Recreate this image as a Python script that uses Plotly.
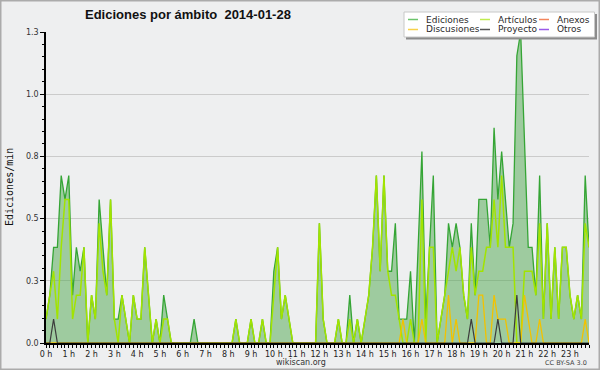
import plotly.graph_objects as go

# ---------------- data (edits per minute, 10-minute slots, one row per hour) -------------
hour_labels = ["0 h", "1 h", "2 h", "3 h", "4 h", "5 h", "6 h", "7 h", "8 h", "9 h", "10 h", "11 h",
               "12 h", "13 h", "14 h", "15 h", "16 h", "17 h", "18 h", "19 h", "20 h", "21 h", "22 h", "23 h"]
y_tick_vals = [0, 0.26, 0.52, 0.78, 1.04, 1.3]
y_tick_text = ["0.0", "0.3", "0.5", "0.8", "1.0", "1.3"]

ediciones = [
    0.1, 0.2, 0.4, 0.4, 0.7, 0.6,
    0.7, 0.2, 0.4, 0.3, 0.4, 0.0,
    0.2, 0.1, 0.6, 0.4, 0.2, 0.6,
    0.1, 0.1, 0.2, 0.1, 0.0, 0.2,
    0.1, 0.1, 0.4, 0.2, 0.0, 0.1,
    0.0, 0.2, 0.1, 0.0, 0.0, 0.0,
    0.0, 0.0, 0.0, 0.1, 0.0, 0.0,
    0.0, 0.0, 0.0, 0.0, 0.0, 0.0,
    0.0, 0.0, 0.1, 0.0, 0.0, 0.0,
    0.1, 0.0, 0.0, 0.1, 0.0, 0.0,
    0.3, 0.4, 0.1, 0.2, 0.1, 0.0,
    0.0, 0.0, 0.0, 0.0, 0.0, 0.0,
    0.5, 0.1, 0.0, 0.0, 0.0, 0.1,
    0.0, 0.0, 0.2, 0.0, 0.1, 0.0,
    0.1, 0.2, 0.4, 0.7, 0.3, 0.7,
    0.3, 0.3, 0.5, 0.1, 0.1, 0.1,
    0.3, 0.0, 0.4, 0.8, 0.1, 0.4,
    0.7, 0.0, 0.1, 0.2, 0.5, 0.4,
    0.5, 0.4, 0.2, 0.1, 0.5, 0.2,
    0.6, 0.6, 0.6, 0.4, 0.9, 0.6,
    0.8, 0.6, 0.4, 0.5, 1.2, 1.3,
    0.8, 0.4, 0.4, 0.2, 0.7, 0.1,
    0.5, 0.1, 0.4, 0.1, 0.4, 0.4,
    0.2, 0.1, 0.2, 0.1, 0.7, 0.4,
]

articulos = [
    0.1, 0.2, 0.3, 0.1, 0.4, 0.6,
    0.6, 0.1, 0.2, 0.2, 0.4, 0.0,
    0.2, 0.1, 0.5, 0.3, 0.2, 0.6,
    0.1, 0.0, 0.2, 0.1, 0.0, 0.2,
    0.1, 0.1, 0.4, 0.2, 0.0, 0.1,
    0.0, 0.1, 0.1, 0.0, 0.0, 0.0,
    0.0, 0.0, 0.0, 0.0, 0.0, 0.0,
    0.0, 0.0, 0.0, 0.0, 0.0, 0.0,
    0.0, 0.0, 0.1, 0.0, 0.0, 0.0,
    0.1, 0.0, 0.0, 0.1, 0.0, 0.0,
    0.2, 0.4, 0.1, 0.2, 0.1, 0.0,
    0.0, 0.0, 0.0, 0.0, 0.0, 0.0,
    0.5, 0.1, 0.0, 0.0, 0.0, 0.1,
    0.0, 0.0, 0.1, 0.0, 0.1, 0.0,
    0.1, 0.2, 0.4, 0.7, 0.3, 0.7,
    0.3, 0.2, 0.2, 0.1, 0.0, 0.0,
    0.1, 0.0, 0.0, 0.6, 0.0, 0.4,
    0.4, 0.0, 0.1, 0.2, 0.3, 0.4,
    0.3, 0.4, 0.2, 0.1, 0.4, 0.2,
    0.3, 0.3, 0.4, 0.4, 0.6, 0.4,
    0.7, 0.4, 0.4, 0.4, 0.0, 0.0,
    0.3, 0.3, 0.3, 0.2, 0.5, 0.1,
    0.5, 0.1, 0.4, 0.1, 0.4, 0.4,
    0.2, 0.1, 0.2, 0.1, 0.5, 0.4,
]

discusiones = [
    0.0, 0.0, 0.0, 0.0, 0.0, 0.0,
    0.0, 0.0, 0.0, 0.0, 0.0, 0.0,
    0.0, 0.0, 0.0, 0.0, 0.0, 0.0,
    0.0, 0.0, 0.0, 0.0, 0.0, 0.0,
    0.0, 0.0, 0.0, 0.0, 0.0, 0.0,
    0.0, 0.0, 0.0, 0.0, 0.0, 0.0,
    0.0, 0.0, 0.0, 0.0, 0.0, 0.0,
    0.0, 0.0, 0.0, 0.0, 0.0, 0.0,
    0.0, 0.0, 0.0, 0.0, 0.0, 0.0,
    0.0, 0.0, 0.0, 0.0, 0.0, 0.0,
    0.0, 0.0, 0.0, 0.0, 0.0, 0.0,
    0.0, 0.0, 0.0, 0.0, 0.0, 0.0,
    0.0, 0.0, 0.0, 0.0, 0.0, 0.0,
    0.0, 0.0, 0.0, 0.0, 0.0, 0.0,
    0.0, 0.0, 0.0, 0.0, 0.0, 0.0,
    0.0, 0.0, 0.0, 0.0, 0.1, 0.0,
    0.0, 0.0, 0.0, 0.1, 0.0, 0.0,
    0.0, 0.0, 0.0, 0.0, 0.2, 0.0,
    0.1, 0.0, 0.0, 0.0, 0.0, 0.0,
    0.2, 0.2, 0.0, 0.0, 0.2, 0.1,
    0.1, 0.1, 0.0, 0.0, 0.0, 0.0,
    0.2, 0.1, 0.0, 0.0, 0.1, 0.0,
    0.0, 0.0, 0.0, 0.0, 0.0, 0.0,
    0.0, 0.0, 0.0, 0.0, 0.1, 0.0,
]

proyecto = [
    0.0, 0.0, 0.1, 0.0, 0.0, 0.0,
    0.0, 0.0, 0.0, 0.0, 0.0, 0.0,
    0.0, 0.0, 0.0, 0.0, 0.0, 0.0,
    0.0, 0.0, 0.0, 0.0, 0.0, 0.0,
    0.0, 0.0, 0.0, 0.0, 0.0, 0.0,
    0.0, 0.0, 0.0, 0.0, 0.0, 0.0,
    0.0, 0.0, 0.0, 0.0, 0.0, 0.0,
    0.0, 0.0, 0.0, 0.0, 0.0, 0.0,
    0.0, 0.0, 0.0, 0.0, 0.0, 0.0,
    0.0, 0.0, 0.0, 0.0, 0.0, 0.0,
    0.0, 0.0, 0.0, 0.0, 0.0, 0.0,
    0.0, 0.0, 0.0, 0.0, 0.0, 0.0,
    0.0, 0.0, 0.0, 0.0, 0.0, 0.0,
    0.0, 0.0, 0.0, 0.0, 0.0, 0.0,
    0.0, 0.0, 0.0, 0.0, 0.0, 0.0,
    0.0, 0.0, 0.0, 0.0, 0.0, 0.0,
    0.0, 0.0, 0.0, 0.0, 0.0, 0.0,
    0.0, 0.0, 0.0, 0.0, 0.0, 0.0,
    0.0, 0.0, 0.0, 0.0, 0.1, 0.0,
    0.0, 0.0, 0.0, 0.0, 0.0, 0.1,
    0.0, 0.0, 0.0, 0.0, 0.2, 0.0,
    0.0, 0.0, 0.0, 0.0, 0.0, 0.0,
    0.0, 0.0, 0.0, 0.0, 0.0, 0.0,
    0.0, 0.0, 0.0, 0.0, 0.0, 0.0,
]

legend_names = ["Ediciones", "Artículos", "Anexos", "Discusiones", "Proyecto", "Otros"]

# time of each 10-minute slot, in hours
slots = [i / 6 for i in range(len(ediciones))]

# ---------------- layout geometry (pixels) ----------------
W, H = 600, 370
L, R, T, B = 46, 11, 32, 27
PW, PH = W - L - R, H - T - B


def px(x):
    return (x - L) / PW


def py(y):
    return (H - B - y) / PH


BG = "#eeeff0"
FONT = "DejaVu Sans"

fig = go.Figure()
fig.add_trace(go.Scatter(x=slots, y=ediciones, mode="lines", fill="tozeroy",
                         fillcolor="rgba(78,168,78,0.5)",
                         line=dict(color="#35a535", width=1.3), name=legend_names[0],
                         showlegend=False))
fig.add_trace(go.Scatter(x=slots, y=articulos, mode="lines",
                         line=dict(color="#a2e400", width=1.5), name=legend_names[1],
                         showlegend=False))
fig.add_trace(go.Scatter(x=slots, y=discusiones, mode="lines",
                         line=dict(color="#f2c200", width=1.3), name=legend_names[3],
                         showlegend=False))
fig.add_trace(go.Scatter(x=slots, y=proyecto, mode="lines",
                         line=dict(color="#3c3c3c", width=1.2), name=legend_names[4],
                         showlegend=False))

shapes = []
annotations = []

# outer frame
shapes.append(dict(type="rect", xref="paper", yref="paper",
                   x0=px(0.75), x1=px(599.25), y0=py(369.25), y1=py(0.75),
                   line=dict(color="#ababab", width=1.5), fillcolor="rgba(0,0,0,0)", layer="above"))

# legend box with shadow
shapes.append(dict(type="rect", xref="paper", yref="paper",
                   x0=px(406), x1=px(597), y0=py(39.5), y1=py(14),
                   line=dict(width=0), fillcolor="#8c8c8c", layer="above"))
shapes.append(dict(type="rect", xref="paper", yref="paper",
                   x0=px(404), x1=px(594.5), y0=py(37), y1=py(12),
                   line=dict(color="#c8c8c8", width=1), fillcolor="#ffffff", layer="above"))

legend_colors = ["#6cc46c", "#c0ec50", "#f3855c", "#f7d14a", "#555555", "#9a5ae8"]
col_swatch = [408, 480, 539]
col_text = [424, 496, 555]
row_y = [19.5, 29.5]
for k, name in enumerate(legend_names):
    r, c = divmod(k, 3)
    shapes.append(dict(type="line", xref="paper", yref="paper",
                       x0=px(col_swatch[c]), x1=px(col_swatch[c] + 10),
                       y0=py(row_y[r]), y1=py(row_y[r]),
                       line=dict(color=legend_colors[k], width=1.5), layer="above"))
    annotations.append(dict(text=name, xref="paper", yref="paper",
                            x=px(col_text[c]), y=py(row_y[r]), xanchor="left", yanchor="middle",
                            showarrow=False, font=dict(family=FONT, size=9, color="#2a2a2a")))

# y axis title
annotations.append(dict(text="Ediciones/min", xref="paper", yref="paper",
                        x=px(9.5), y=0.5, textangle=-90, xanchor="center", yanchor="middle",
                        showarrow=False, font=dict(family="DejaVu Sans Mono", size=10, color="#111")))
# footer texts
annotations.append(dict(text="wikiscan.org", xref="paper", yref="paper",
                        x=px(301), y=py(362.5), xanchor="center", yanchor="middle",
                        showarrow=False, font=dict(family=FONT, size=8, color="#333")))
annotations.append(dict(text="CC BY-SA 3.0", xref="paper", yref="paper",
                        x=px(589), y=py(362.5), xanchor="right", yanchor="middle",
                        showarrow=False, font=dict(family=FONT, size=6.5, color="#444")))

fig.update_layout(
    width=W, height=H,
    margin=dict(l=L, r=R, t=T, b=B, pad=0),
    paper_bgcolor=BG, plot_bgcolor=BG,
    showlegend=False,
    title=dict(text="<b>Ediciones por ámbito \u00a02014-01-28</b>",
               xref="container", yref="container",
               x=85 / W, xanchor="left", y=1 - 14 / H, yanchor="middle",
               font=dict(family="Liberation Sans", size=13, color="#111")),
    shapes=shapes,
    annotations=annotations,
    xaxis=dict(range=[0, slots[-1]], tickmode="array", tickvals=list(range(24)),
               ticktext=hour_labels, ticks="outside", ticklen=3, tickwidth=1,
               tickcolor="#000", showline=True, linecolor="#000", linewidth=1.5,
               showgrid=False, zeroline=False,
               tickfont=dict(family=FONT, size=8, color="#222"),
               minor=dict(dtick=1 / 6, tick0=0, ticks="outside", ticklen=3,
                          tickcolor="#000", tickwidth=1, showgrid=False)),
    yaxis=dict(range=[0, 1.3], tickmode="array", tickvals=y_tick_vals, ticktext=y_tick_text,
               ticks="outside", ticklen=4, tickwidth=1, tickcolor="#000",
               showline=True, linecolor="#000", linewidth=1.5,
               showgrid=True, gridcolor="#cbcbcb", gridwidth=1, zeroline=False,
               tickfont=dict(family=FONT, size=8, color="#333"),
               minor=dict(dtick=0.052, tick0=0, ticks="outside", ticklen=2,
                          tickcolor="#000", tickwidth=1, showgrid=False)),
)

fig.write_html("out.html", config={"displayModeBar": False},
               post_script="document.body.style.margin='0';document.body.style.overflow='hidden';")
